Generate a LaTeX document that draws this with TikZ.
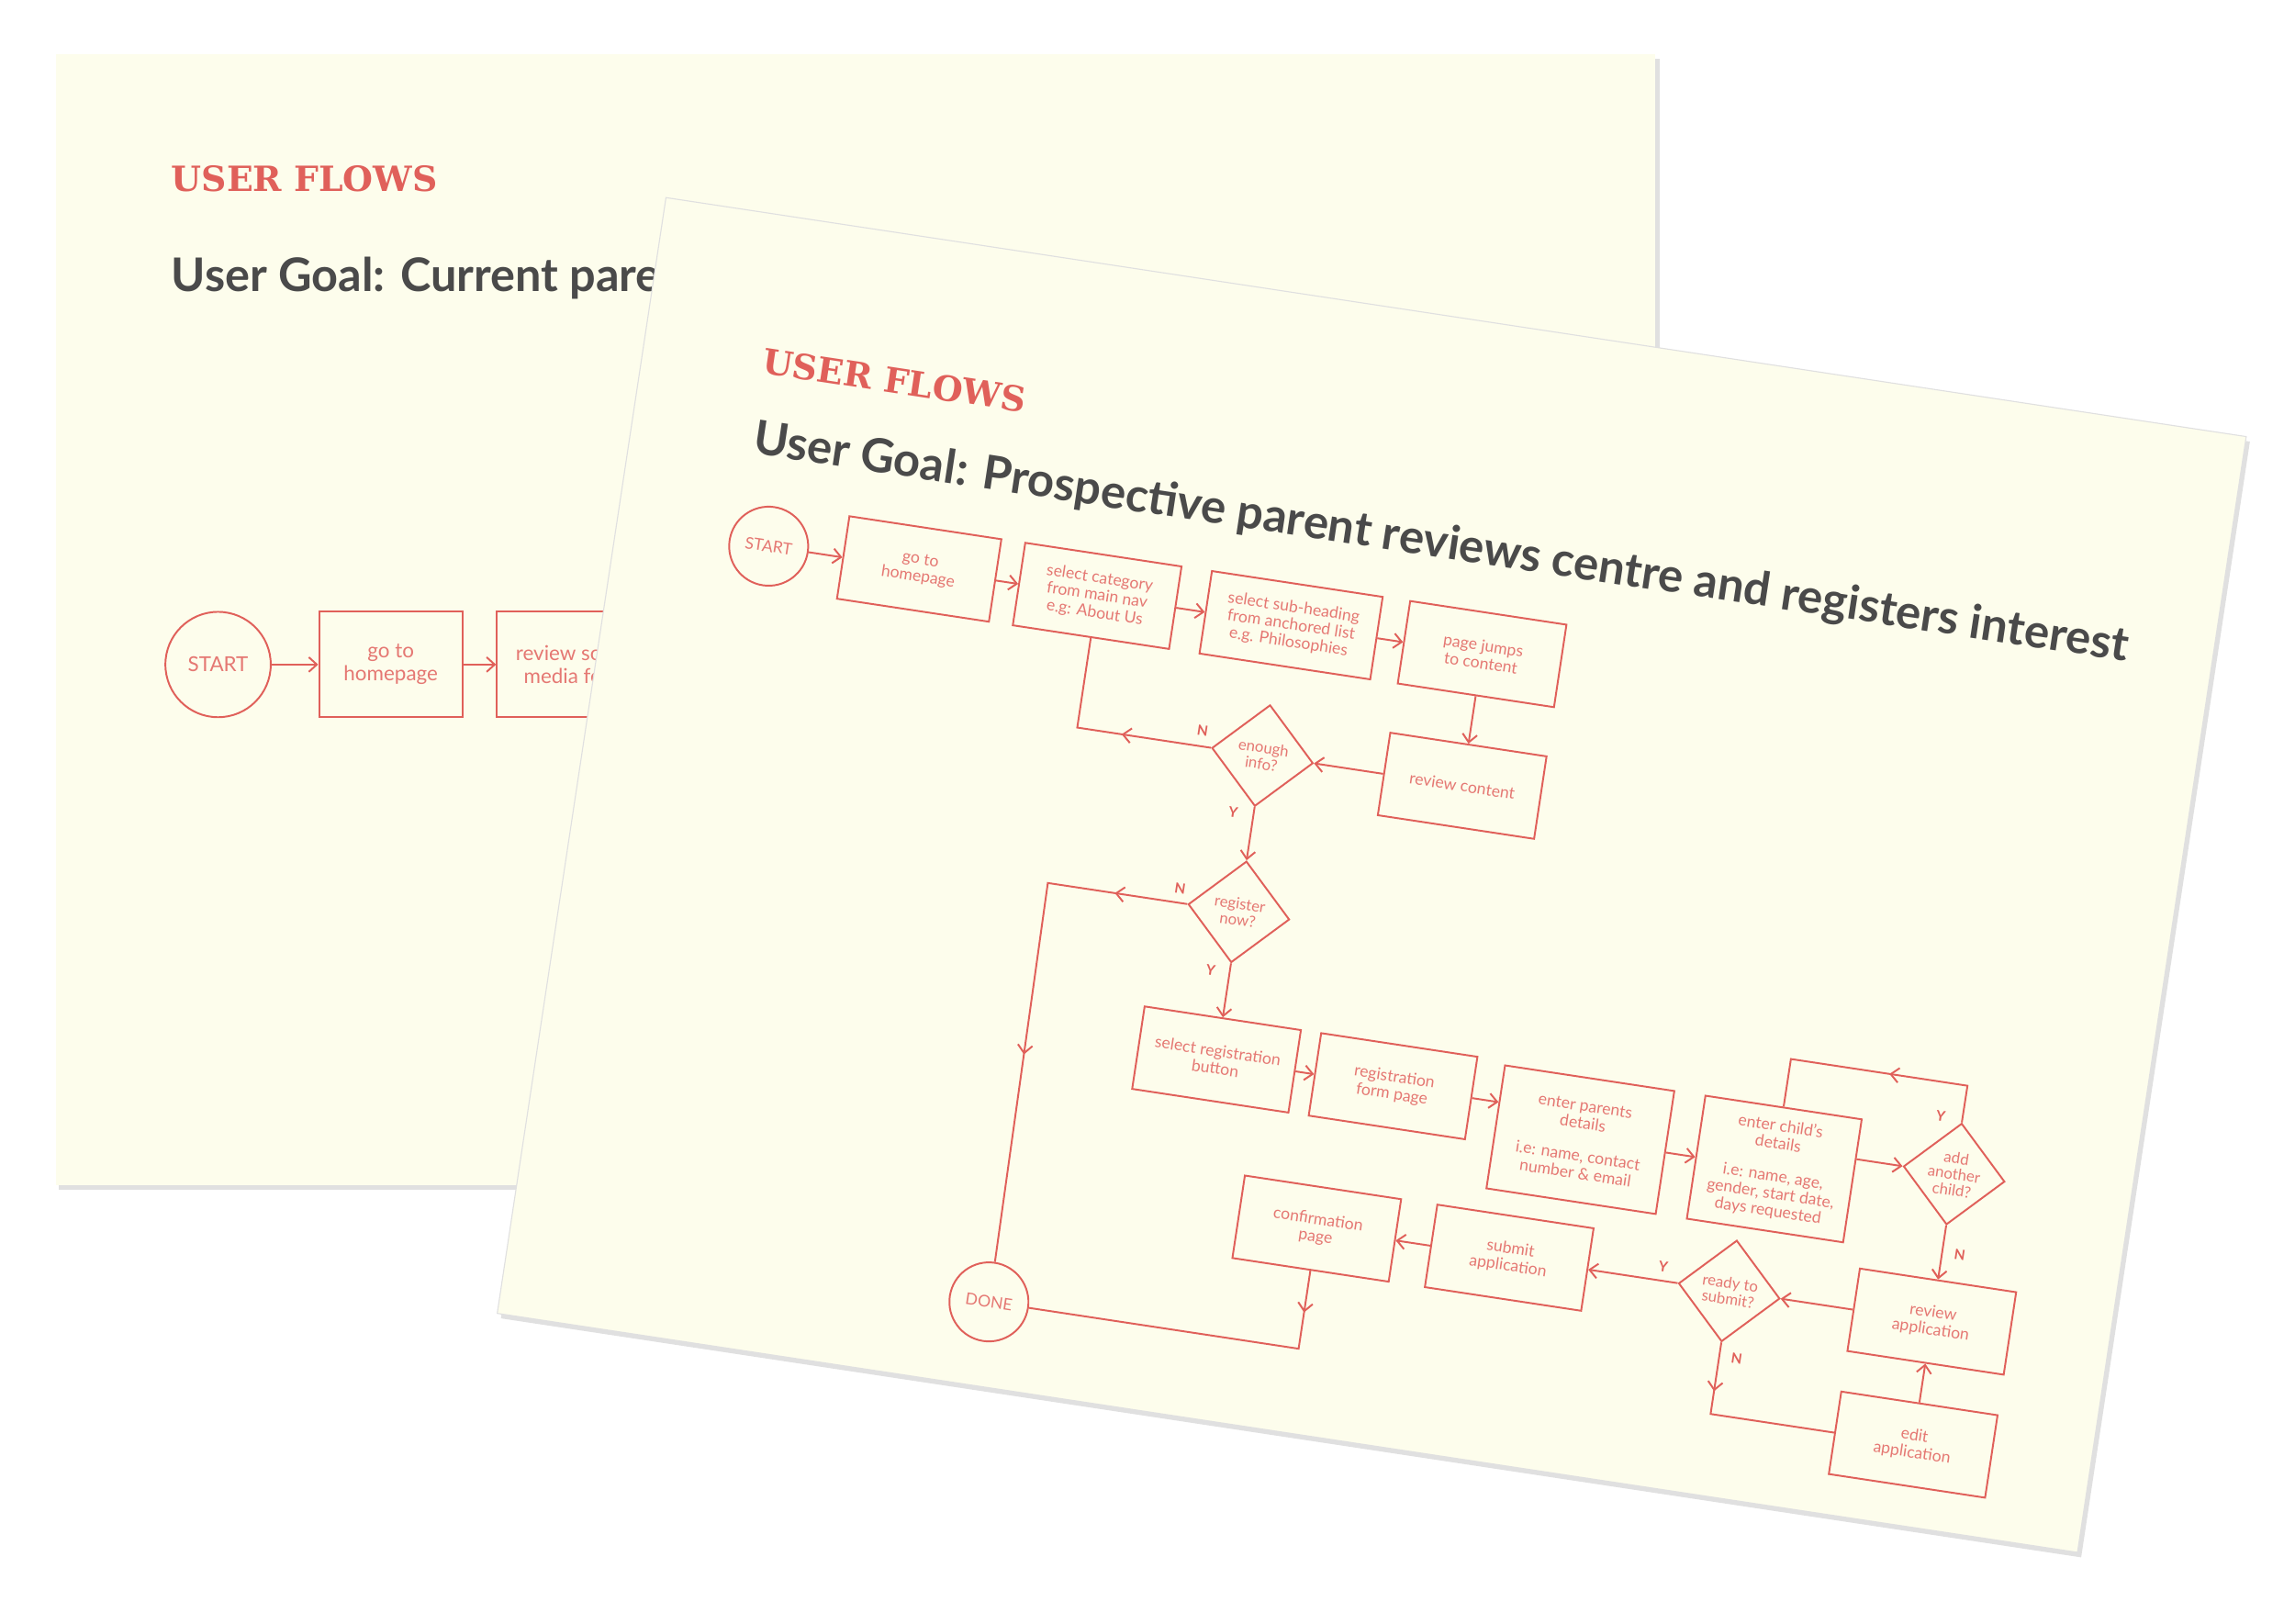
\documentclass[tikz,border=0pt]{standalone}
\usepackage{fontspec}
\setmainfont{Lato}
\newfontfamily\slab{DejaVu Serif}
\usetikzlibrary{arrows.meta,shapes.geometric,decorations.markings}
\definecolor{fr}{HTML}{E0605A}
\definecolor{card}{HTML}{FDFDEC}
\definecolor{ttl}{HTML}{4A4A4A}
\begin{document}
\begin{tikzpicture}[x=0.02cm,y=-0.02cm,
  box/.style={draw=fr, line width=0.7pt, minimum width=2.16cm, minimum height=1.14cm, align=center, text=fr!85, font=\fontsize{6.3}{6.8}\selectfont, inner sep=1pt},
  tall/.style={box, minimum height=1.7cm},
  dia/.style={diamond, aspect=1, draw=fr, line width=0.7pt, minimum width=1.4cm, minimum height=1.4cm, inner sep=0pt, align=center, text=fr!85, font=\fontsize{6}{6.3}\selectfont},
  circ/.style={circle, draw=fr, line width=0.7pt, minimum size=1.08cm, inner sep=0pt, text=fr!85, font=\fontsize{6.3}{7}\selectfont},
  ln/.style={draw=fr, line width=0.7pt},
  arr/.style={ln, -{Straight Barb[length=1.1mm,width=2mm]}},
  midarr/.style={ln, postaction=decorate, decoration={markings, mark=at position #1 with {\arrow{Straight Barb[length=1.1mm,width=2mm]}}}},
  yn/.style={text=fr, font=\bfseries\fontsize{5.5}{6}\selectfont, inner sep=0pt}
]
\useasboundingbox (0,0) rectangle (1568,1109);
\fill[white] (0,0) rectangle (1568,1109);
% back card
\fill[black,opacity=0.12] (40,40) rectangle (1134,813);
\fill[card] (38,37) rectangle (1131,810);
\node[anchor=west, text=fr, font=\slab\bfseries\fontsize{13.5}{14}\selectfont] (bt) at (111,122) {USER FLOWS};
\node[anchor=west, text=ttl, font=\bfseries\fontsize{18}{18}\selectfont] (bg) at (111,190) {User Goal: Current parents keep up to date};
\node[circ, minimum size=1.44cm, font=\fontsize{8}{9}\selectfont] (bs) at (149,454) {START};
\node[box, minimum width=1.96cm, minimum height=1.44cm, font=\fontsize{8}{9}\selectfont] (bh) at (267,454) {go to\\homepage};
\node[box, minimum width=2.1cm, minimum height=1.44cm, font=\fontsize{8}{9}\selectfont] (bm) at (392,454) {review social\\media feed};
\draw[arr] (bs) -- (bh);
\draw[arr] (bh) -- (bm);
% front card
\begin{scope}[shift={(455,135)}, rotate=-8.6, transform shape]
\fill[black,opacity=0.12] (3,3) rectangle (1095,774);
\fill[card, draw=black!12, line width=0.4pt] (0,0) rectangle (1092,771);
\node[anchor=west, text=fr, font=\slab\bfseries\fontsize{13.5}{14}\selectfont] (ft) at (76,100) {USER FLOWS};
\node[anchor=west, text=ttl, font=\bfseries\fontsize{18.2}{18}\selectfont] (fg) at (78,155) {User Goal: Prospective parent reviews centre and registers interest};
\node[circ] (start) at (105,225) {START};
\node[box, minimum width=2.1cm] (goto) at (209,225) {go to\\homepage};
\node[box] (selcat) at (332,225) {select category\\from main nav\\e.g: About Us};
\node[box, minimum width=2.36cm] (subh) at (466,225) {select sub-heading\\from anchored list\\e.g. Philosophies};
\node[box] (jumps) at (598,225) {page jumps\\to content};
\node[box] (review) at (598,316) {review content};
\node[dia] (enough) at (460,316) {enough\\info?};
\node[dia] (regnow) at (460,424) {register\\now?};
\node[box] (selreg) at (460,526) {select registration\\button};
\node[box] (regform) at (582,526) {registration\\form page};
\node[tall, minimum width=2.34cm] (parents) at (714,543) {enter parents\\details\\[6pt]i.e: name, contact\\number \& email};
\node[tall] (child) at (848,543) {enter child's\\details\\[6pt]i.e: name, age,\\gender, start date,\\days requested};
\node[dia] (add) at (970,528) {add\\another\\child?};
\node[box] (reviewapp) at (970,630) {review\\application};
\node[box] (edit) at (970,715) {edit\\application};
\node[dia] (ready) at (830,630) {ready to\\submit?};
\node[box] (submit) at (678,630) {submit\\application};
\node[box] (confirm) at (545,630) {confirmation\\page};
\node[circ] (done) at (331,713) {DONE};
\draw[arr] (start) -- (goto);
\draw[arr] (goto) -- (selcat);
\draw[arr] (selcat) -- (subh);
\draw[arr] (subh) -- (jumps);
\draw[arr] (jumps) -- (review);
\draw[arr] (review) -- (enough);
\draw[midarr=0.4] (enough.west) -- (332,316) -- (selcat.south);
\node[yn] (n1) at (417,305) {N};
\draw[arr] (enough) -- (regnow);
\node[yn] (y1) at (446,357) {Y};
\draw[ln, postaction=decorate, decoration={markings, mark=at position 0.14 with {\arrow{Straight Barb[length=1.1mm,width=2mm]}}, mark=at position 0.6 with {\arrow{Straight Barb[length=1.1mm,width=2mm]}}}] (regnow.west) -- (328,424) -- (done.north);
\node[yn] (n2) at (418,414) {N};
\draw[arr] (regnow) -- (selreg);
\node[yn] (y2) at (447,466) {Y};
\draw[arr] (selreg) -- (regform);
\draw[arr] (regform.east) -- (regform.east -| parents.west);
\draw[arr] (parents) -- (child);
\draw[arr] (child.east |- add) -- (add.west);
\draw[midarr=0.44] (add.north) -- (970,467) -- (848,467) -- (child.north);
\node[yn] (y3) at (955,490) {Y};
\draw[arr] (add) -- (reviewapp);
\node[yn] (n3) at (982,582) {N};
\draw[arr] (reviewapp) -- (ready);
\draw[arr] (edit) -- (reviewapp);
\draw[midarr=0.25] (ready.south) -- (830,715) -- (edit.west);
\node[yn] (n4) at (842,675) {N};
\draw[arr] (ready) -- (submit);
\node[yn] (y4) at (783,620) {Y};
\draw[arr] (submit) -- (confirm);
\draw[midarr=0.12] (confirm.south) -- (545,713) -- (done.east);
\end{scope}
\end{tikzpicture}
\end{document}
